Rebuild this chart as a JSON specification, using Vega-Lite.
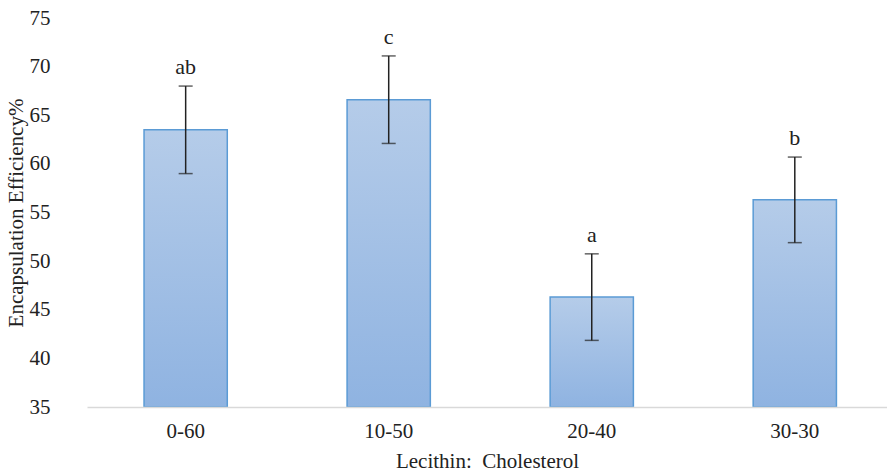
{
  "$schema": "https://vega.github.io/schema/vega-lite/v6.json",
  "autosize": {"type": "none"},
  "width": 800,
  "height": 389,
  "padding": {"left": 87, "top": 18, "right": 0, "bottom": 66},
  "background": "white",
  "config": {
    "view": {"stroke": null},
    "font": "Liberation Serif",
    "axis": {"labelFont": "Liberation Serif", "titleFont": "Liberation Serif", "labelColor": "#222", "titleColor": "#222", "titleFontWeight": "normal", "labelFontSize": 21, "titleFontSize": 21}
  },
  "data": {
    "values": [
      {"ratio": "0-60", "mean": 63.5, "sd": 4.5, "label": "ab"},
      {"ratio": "10-50", "mean": 66.6, "sd": 4.5, "label": "c"},
      {"ratio": "20-40", "mean": 46.3, "sd": 4.45, "label": "a"},
      {"ratio": "30-30", "mean": 56.3, "sd": 4.4, "label": "b"}
    ]
  },
  "transform": [
    {"calculate": "datum.mean - datum.sd", "as": "lo"},
    {"calculate": "datum.mean + datum.sd", "as": "hi"}
  ],
  "encoding": {
    "x": {
      "field": "ratio", "type": "nominal", "sort": null,
      "scale": {"paddingInner": 0.59, "paddingOuter": 0.265, "align": 0.53},
      "axis": {"title": "Lecithin:\u00a0 Cholesterol", "labelAngle": 0, "ticks": false, "domainColor": "#d9d9d9", "domainWidth": 1.5, "labelPadding": 13, "titlePadding": 9, "zindex": 1}
    }
  },
  "layer": [
    {
      "mark": {
        "type": "bar",
        "color": {"gradient": "linear", "x1": 0, "y1": 0, "x2": 0, "y2": 1, "stops": [{"offset": 0, "color": "#b5cce9"}, {"offset": 1, "color": "#8fb3e1"}]},
        "stroke": "#5b9bd5",
        "strokeWidth": 1.5
      },
      "encoding": {
        "y": {
          "field": "mean", "type": "quantitative",
          "scale": {"domain": [35, 75], "nice": false, "zero": false},
          "axis": {"title": "Encapsulation Efficiency%", "values": [35, 40, 45, 50, 55, 60, 65, 70, 75], "grid": false, "domain": false, "ticks": false, "labelPadding": 37, "titlePadding": 3}
        },
        "y2": {"datum": 35}
      }
    },
    {
      "mark": {"type": "rule", "color": "#222", "strokeWidth": 1.5},
      "encoding": {
        "y": {"field": "lo", "type": "quantitative"},
        "y2": {"field": "hi"}
      }
    },
    {
      "mark": {"type": "tick", "color": "#222", "size": 14, "thickness": 1.5},
      "encoding": {"y": {"field": "lo", "type": "quantitative"}}
    },
    {
      "mark": {"type": "tick", "color": "#222", "size": 14, "thickness": 1.5},
      "encoding": {"y": {"field": "hi", "type": "quantitative"}}
    },
    {
      "mark": {"type": "text", "baseline": "alphabetic", "dy": -12, "fontSize": 22, "font": "Liberation Serif", "color": "#222"},
      "encoding": {
        "y": {"field": "hi", "type": "quantitative"},
        "text": {"field": "label"}
      }
    }
  ]
}
